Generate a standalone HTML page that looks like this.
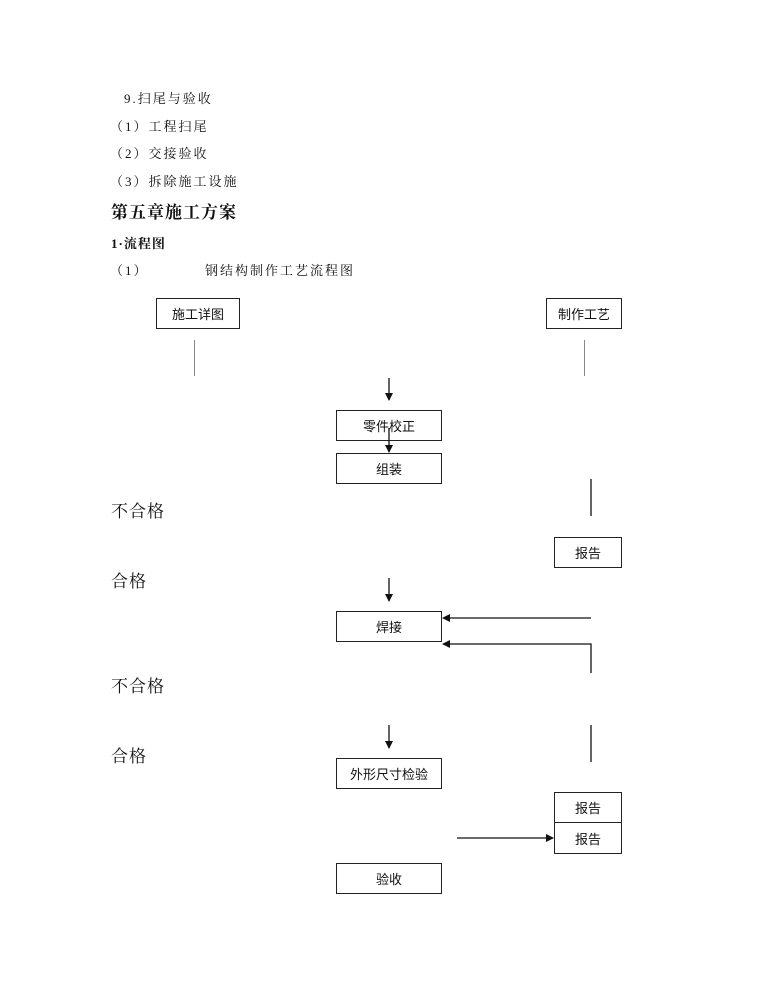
<!DOCTYPE html>
<html><head><meta charset="utf-8">
<style>
html,body{margin:0;padding:0;background:#fff;}
body{width:765px;height:990px;position:relative;overflow:hidden;font-family:"Liberation Serif","Noto Serif CJK SC",serif;color:#111;}
.t{position:absolute;white-space:nowrap;line-height:1;}
.s{font-size:13px;letter-spacing:2px;}
.b{font-weight:bold;}
.box{position:absolute;border:1px solid #222;box-sizing:border-box;font-family:"Liberation Sans","Noto Sans CJK SC",sans-serif;font-size:13px;display:flex;align-items:center;justify-content:center;background:#fff;}
.big{font-size:17px;font-family:"Liberation Serif","Noto Serif CJK SC",serif;letter-spacing:1px;}
svg{position:absolute;left:0;top:0;}
</style></head><body>
<div class="t s" style="left:124px;top:92px;">9.扫尾与验收</div>
<div class="t s" style="left:110px;top:120px;">（1）工程扫尾</div>
<div class="t s" style="left:110px;top:147px;">（2）交接验收</div>
<div class="t s" style="left:110px;top:175px;">（3）拆除施工设施</div>
<div class="t b" style="left:111px;top:204px;font-size:17px;letter-spacing:1px;">第五章施工方案</div>
<div class="t b s" style="left:111px;top:237px;letter-spacing:1px;">1·流程图</div>
<div class="t s" style="left:110px;top:264px;">（1）</div>
<div class="t s" style="left:205px;top:264px;">钢结构制作工艺流程图</div>

<div class="t big" style="left:111px;top:503px;">不合格</div>
<div class="t big" style="left:111px;top:573px;">合格</div>
<div class="t big" style="left:111px;top:678px;">不合格</div>
<div class="t big" style="left:111px;top:748px;">合格</div>

<div class="box" style="left:156px;top:298px;width:84px;height:31px;">施工详图</div>
<div class="box" style="left:546px;top:298px;width:76px;height:31px;">制作工艺</div>
<div class="box" style="left:336px;top:410px;width:106px;height:31px;">零件校正</div>
<div class="box" style="left:336px;top:453px;width:106px;height:31px;">组装</div>
<div class="box" style="left:554px;top:537px;width:68px;height:31px;">报告</div>
<div class="box" style="left:336px;top:611px;width:106px;height:31px;">焊接</div>
<div class="box" style="left:336px;top:758px;width:106px;height:31px;">外形尺寸检验</div>
<div class="box" style="left:554px;top:792px;width:68px;height:31px;">报告</div>
<div class="box" style="left:554px;top:822px;width:68px;height:32px;">报告</div>
<div class="box" style="left:336px;top:863px;width:106px;height:31px;">验收</div>

<svg width="765" height="990" viewBox="0 0 765 990">
<defs><marker id="a" markerWidth="8" markerHeight="8" refX="7" refY="4" orient="auto" markerUnits="userSpaceOnUse"><path d="M0,0 L8,4 L0,8 z" fill="#111"/></marker></defs>
<g stroke="#888" stroke-width="1">
<line x1="194.5" y1="340" x2="194.5" y2="376"/>
<line x1="584.5" y1="340" x2="584.5" y2="376"/>
</g>
<g stroke="#111" stroke-width="1.3" fill="none">
<line x1="389" y1="378" x2="389" y2="400" marker-end="url(#a)"/>
<line x1="389" y1="428" x2="389" y2="452" marker-end="url(#a)"/>
<line x1="591" y1="479" x2="591" y2="516"/>
<line x1="389" y1="578" x2="389" y2="601" marker-end="url(#a)"/>
<line x1="591" y1="618" x2="443" y2="618" marker-end="url(#a)"/>
<polyline points="591,673 591,644 443,644" marker-end="url(#a)"/>
<line x1="389" y1="725" x2="389" y2="748" marker-end="url(#a)"/>
<line x1="591" y1="725" x2="591" y2="762"/>
<line x1="457" y1="838" x2="553" y2="838" marker-end="url(#a)"/>
</g>
</svg>
</body></html>
